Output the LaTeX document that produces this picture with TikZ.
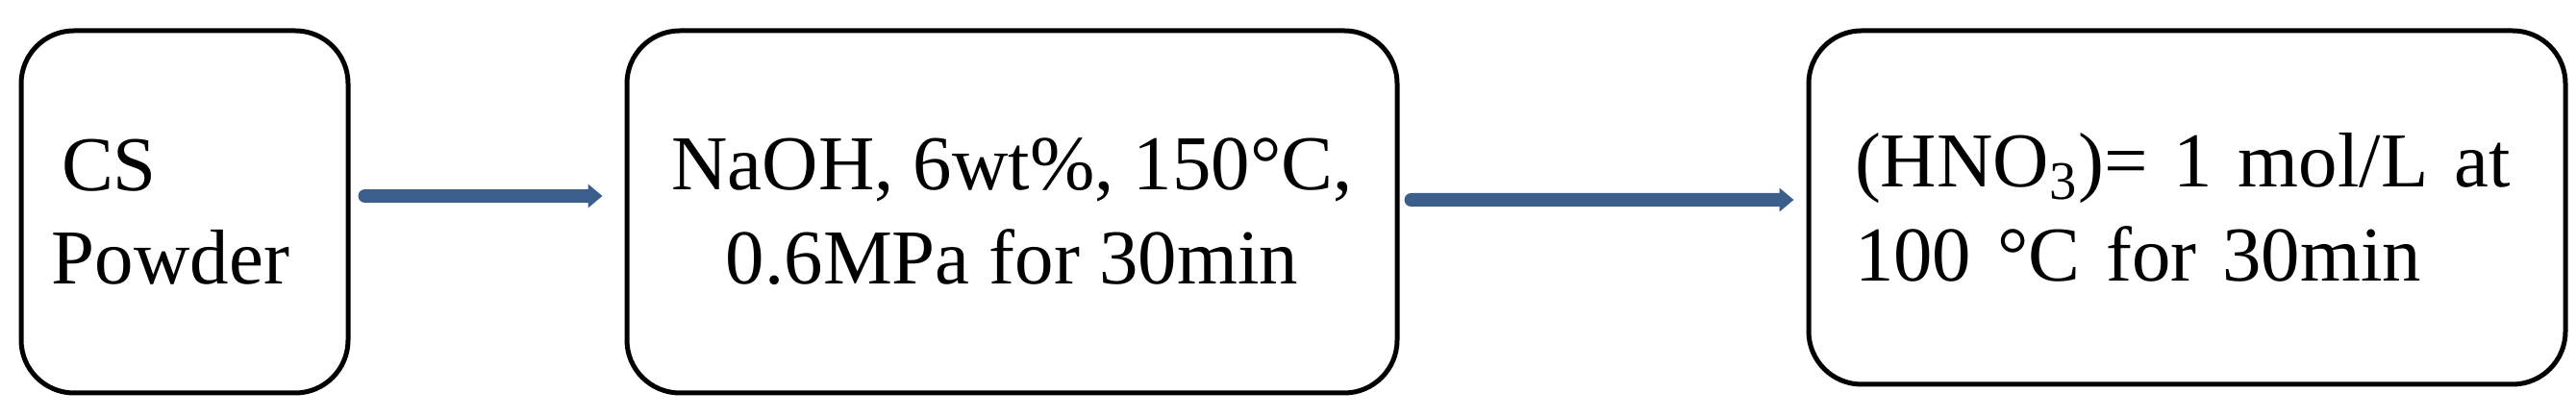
\documentclass[tikz,border=0pt]{standalone}
\usepackage{fontspec}
\setmainfont{Liberation Serif}
\usepackage{tikz}
\usetikzlibrary{arrows.meta, positioning}
\definecolor{FlowBlue}{HTML}{3B5E8C}

\begin{document}
\begin{tikzpicture}[
    stage/.style={draw=black, line width=0.05cm, rounded corners=0.55cm,
                  font=\fontsize{23}{27.8}\selectfont, inner sep=0pt},
    flow/.style={draw=FlowBlue, line width=0.14cm, line cap=round,
                 -{Triangle[length=0.15cm, width=0.24cm]}}
]
\useasboundingbox (0,0) rectangle (26.79,4.34);

\node[stage, minimum width=3.40cm, minimum height=3.77cm, text width=2.76cm,
      align=left] (powder) at (1.92,2.135) {\hspace{0.1cm}CS\\Powder};
\node[stage, minimum width=8.01cm, minimum height=3.77cm, align=center,
      right=2.85cm of powder] (alkali) {NaOH, 6wt\%, 150°C,\\0.6MPa for 30min};
\node[stage, minimum width=7.87cm, minimum height=3.68cm, text width=6.91cm,
      align=left, below right=0cm and 4.23cm of alkali.north east] (acid)
      {(HNO\textsubscript{3})= 1 mol/L at\\100 °C for 30min};

\draw[flow] ([xshift=0.15cm, yshift=0.165cm]powder.east)
         -- ([xshift=-0.23cm, yshift=0.165cm]alkali.west);
\draw[flow] ([xshift=0.12cm, yshift=0.125cm]alkali.east)
         -- ([xshift=-0.13cm, yshift=0.08cm]acid.west);
\end{tikzpicture}
\end{document}
